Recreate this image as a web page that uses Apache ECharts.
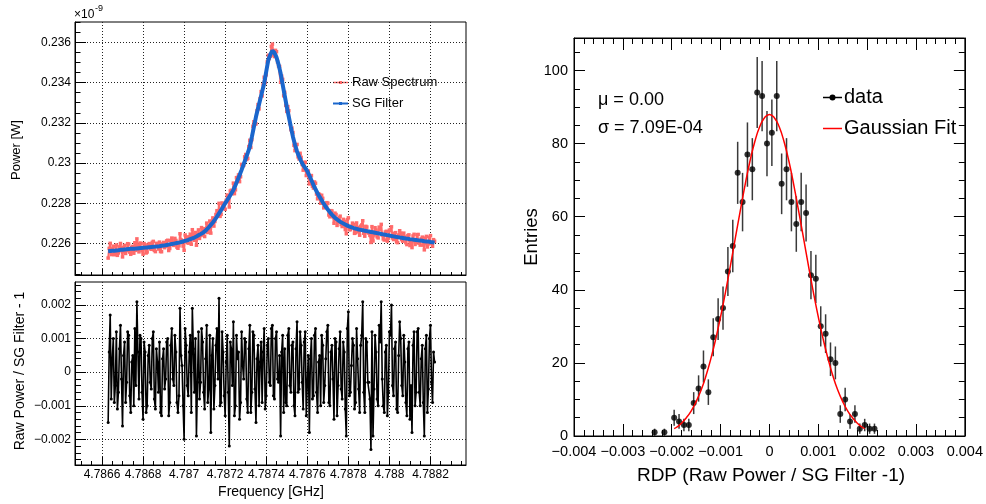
<!DOCTYPE html>
<html><head><meta charset="utf-8">
<script src="https://cdn.jsdelivr.net/npm/echarts@6/dist/echarts.min.js"></script>
<style>html,body{margin:0;padding:0;background:#fff}#c{width:986px;height:504px}</style>
</head><body><div id="c"></div>
<script>
// ================= DATA =================
// Frequency sampling of the spectrum (GHz)
const freqStart = 4.78663;
const freqStep = 0.000005;
// SG-filtered power, units of 1e-9 W (one value per sample)
const sgFilter = [
 0.22562,0.225625,0.22563,0.225635,0.22564,0.225645,0.22565,0.225655,0.22566,0.225665,0.22567,0.22568,0.22569,0.225695,0.22570,0.225705,0.22571,0.225715,0.22572,0.225725,
 0.22573,0.225735,0.22574,0.225745,0.22575,0.22575,0.22575,0.225755,0.22576,0.225765,0.22577,0.225775,0.22578,0.225785,0.22579,0.225795,0.22580,0.225805,0.22581,0.225815,
 0.22582,0.225825,0.22583,0.225835,0.22584,0.225845,0.22585,0.225855,0.22586,0.225865,0.22587,0.22588,0.22589,0.225895,0.22590,0.22591,0.22592,0.22593,0.22594,0.22595,
 0.22596,0.22597,0.22598,0.22599,0.22600,0.22601,0.22602,0.22603,0.22604,0.22605,0.22606,0.226075,0.22609,0.226105,0.22612,0.226135,0.22615,0.226165,0.22618,0.22620,
 0.22622,0.22624,0.22626,0.22628,0.22630,0.226325,0.22635,0.22638,0.22641,0.22644,0.22647,0.22650,0.22653,0.226565,0.22660,0.22665,0.22670,0.226755,0.22681,0.22687,
 0.22693,0.22699,0.22705,0.22712,0.22719,0.227265,0.22734,0.22742,0.22750,0.22758,0.22766,0.227745,0.22783,0.227915,0.22800,0.22808,0.22816,0.22824,0.22832,0.228405,
 0.22849,0.228575,0.22866,0.22878,0.22890,0.229025,0.22915,0.229275,0.22940,0.22953,0.22966,0.22980,0.22994,0.23008,0.23022,0.230365,0.23051,0.23066,0.23081,0.231055,
 0.23130,0.23155,0.23180,0.23205,0.23230,0.23251,0.23272,0.232925,0.23313,0.23334,0.23355,0.233755,0.23396,0.234255,0.23455,0.234835,0.23512,0.23526,0.23540,0.23549,
 0.23558,0.23553,0.23548,0.235365,0.23525,0.235075,0.23490,0.23468,0.23446,0.23418,0.23390,0.233625,0.23335,0.233075,0.23280,0.23255,0.23230,0.23205,0.23180,0.231555,
 0.23131,0.231115,0.23092,0.23075,0.23058,0.23045,0.23032,0.23021,0.23010,0.23000,0.22990,0.22983,0.22976,0.22968,0.22960,0.22949,0.22938,0.229265,0.22915,0.229035,
 0.22892,0.22881,0.22870,0.22860,0.22850,0.22841,0.22832,0.228235,0.22815,0.228065,0.22798,0.227905,0.22783,0.22776,0.22769,0.227625,0.22756,0.22750,0.22744,0.227385,
 0.22733,0.227285,0.22724,0.22720,0.22716,0.227125,0.22709,0.22706,0.22703,0.22700,0.22697,0.226945,0.22692,0.226895,0.22687,0.22685,0.22683,0.22681,0.22679,0.226775,
 0.22676,0.226745,0.22673,0.226715,0.22670,0.22669,0.22668,0.22667,0.22666,0.22665,0.22664,0.22663,0.22662,0.22661,0.22660,0.22659,0.22658,0.22657,0.22656,0.22655,
 0.22654,0.22653,0.22652,0.22651,0.22650,0.22649,0.22648,0.22647,0.22646,0.22645,0.22644,0.22643,0.22642,0.22641,0.22640,0.22639,0.22638,0.22637,0.22636,0.22635,
 0.22634,0.22633,0.22632,0.22631,0.22630,0.226295,0.22629,0.22628,0.22627,0.22626,0.22625,0.226245,0.22624,0.22623,0.22622,0.226215,0.22621,0.22620,0.22619,0.226185,
 0.22618,0.22617,0.22616,0.226155,0.22615,0.226145,0.22614,0.22613,0.22612,0.226115,0.22611,0.226105,0.22610,0.22609,0.22608,0.226075,0.22607,0.22606,0.22605
];
// Raw Power / SG Filter - 1, in units of 1e-4 (one value per sample)
const residualE4 = [
 -15,6,17,-8,4,10,-9,-4,12,-11,-6,7,14,-2,-16,5,9,-9,-3,12,
 11,-7,-12,3,5,-10,13,-4,21,6,-8,11,10,-6,-14,9,6,-12,-10,5,
 8,-3,-5,10,12,-8,-11,7,3,-6,9,-12,-13,4,7,-5,-2,9,10,-13,
 -9,8,13,-2,-4,11,6,-9,-12,-7,19,5,2,-10,-20,13,8,-4,-7,6,
 11,-12,19,7,-6,10,-19,-3,12,-8,-3,13,9,-6,-11,4,14,-9,-5,11,
 -18,5,10,-11,-4,8,13,-2,22,-10,-9,12,6,-7,-13,3,11,-6,-22,9,
 7,-4,15,-13,-10,11,4,6,-14,-9,12,2,-2,10,9,-8,-12,7,14,-12,
 -6,12,11,-5,-15,4,8,-10,3,9,-9,6,13,-11,-7,8,10,-3,-4,13,
 14,-7,-8,10,12,-2,-3,5,-19,6,11,-12,7,-9,-10,11,13,-4,-6,8,
 9,-10,-13,7,15,-6,-5,12,8,-3,-11,9,12,-13,-3,5,-18,4,10,-8,
 -7,11,13,-6,-12,3,5,-10,11,8,-9,-4,4,12,14,-9,-10,6,8,-2,
 -14,10,9,-13,-4,7,12,-5,-8,9,6,-11,-19,13,18,-7,-6,2,10,8,
 -11,-9,13,4,-5,-12,8,11,21,-6,-12,10,9,-3,-3,-8,-23,12,-19,-5,
 11,6,-8,-10,14,9,21,-2,-10,-12,6,8,-13,-6,12,11,20,-4,-7,7,
 9,-11,-12,5,15,10,-4,-7,11,3,-9,-13,7,9,-14,-4,-18,8,12,-10,
 -6,12,13,-6,-10,4,8,-9,-19,7,11,-12,-5,10,14,-3,-9,6,3
];
// RDP histogram (non-empty bins)
const histX = [-0.00235,-0.00215,-0.00195,-0.00185,-0.00175,-0.00165,-0.00155,-0.00145,-0.00135,-0.00125,-0.00115,-0.00105,-0.00095,-0.00085,-0.00075,-0.00065,-0.00055,-0.00045,-0.00035,-0.00025,-0.00015,-0.00005,
 0.00005,0.00015,0.00025,0.00035,0.00045,0.00055,0.00065,0.00075,0.00085,0.00095,0.00105,0.00115,0.00125,0.00135,0.00145,0.00155,0.00165,0.00175,0.00185,0.00195,0.00205,0.00215];
const histCounts = [1,1,5,4,3,3,9,13,19,12,27,32,35,45,52,72,64,77,73,94,93,80,
 83,93,69,73,64,58,64,61,44,43,30,28,21,20,6,10,4,6,2,3,2,2];
const histErr = [1,1,2.2,2,1.7,1.7,3,3.6,4.4,3.5,5.2,5.7,5.9,6.7,7.2,8.5,8,8.8,8.5,9.7,9.6,8.9,
 9.1,9.6,8.3,8.5,8,7.6,8,7.8,6.6,6.6,5.5,5.3,4.6,4.5,2.4,3.2,2,2.4,1.4,1.7,1.4,1.4];
// Gaussian fit curve
const fitX = [-0.00195,-0.0019,-0.0018,-0.0017,-0.0016,-0.0015,-0.0014,-0.0013,-0.0012,-0.0011,-0.001,-0.0009,-0.0008,-0.0007,-0.0006,-0.0005,-0.0004,-0.0003,-0.0002,-0.0001,0,
 0.0001,0.0002,0.0003,0.0004,0.0005,0.0006,0.0007,0.0008,0.0009,0.001,0.0011,0.0012,0.0013,0.0014,0.0015,0.0016,0.0017,0.0018,0.0019,0.00195];
const fitY = [2.0,2.4,3.5,5.0,6.9,9.4,12.5,16.4,21.1,26.5,32.6,39.3,46.5,54.0,61.4,68.6,75.1,80.5,84.6,87.1,88.0,
 87.1,84.6,80.5,75.1,68.6,61.4,54.0,46.5,39.3,32.6,26.5,21.1,16.4,12.5,9.4,6.9,5.0,3.5,2.4,2.0];
// Tick values and labels
const freqTicks = [4.7866,4.7868,4.787,4.7872,4.7874,4.7876,4.7878,4.788,4.7882];
const freqLabels = ['4.7866','4.7868','4.787','4.7872','4.7874','4.7876','4.7878','4.788','4.7882'];
const powerTicks = [0.226,0.228,0.23,0.232,0.234,0.236];
const powerLabels = ['0.226','0.228','0.23','0.232','0.234','0.236'];
const residTicks = [-0.002,-0.001,0,0.001,0.002];
const residLabels = ['\u22120.002','\u22120.001','0','0.001','0.002'];
const rdpTicks = [-0.004,-0.003,-0.002,-0.001,0,0.001,0.002,0.003,0.004];
const rdpLabels = ['\u22120.004','\u22120.003','\u22120.002','\u22120.001','0','0.001','0.002','0.003','0.004'];
const entryTicks = [0,20,40,60,80,100];
const entryLabels = ['0','20','40','60','80','100'];

// ================= BUILD =================
const FONT = "'Liberation Sans', Arial, Helvetica, sans-serif";
const freq = sgFilter.map((_, i) => freqStart + i * freqStep);
const sgData = sgFilter.map((v, i) => [freq[i], v]);
const rawData = sgFilter.map((v, i) => [freq[i], v * (1 + residualE4[i] * 1e-4)]);
const resData = residualE4.map((r, i) => [freq[i], r * 1e-4]);

function range(a, b, step) { const out = []; const n = Math.round((b - a) / step); for (let k = 0; k <= n; k++) out.push(a + k * step); return out; }

const R = {
  fx: [4.7864685, 4.788373],
  py: [0.22444, 0.237009],
  ry: [-0.002764, 0.002685],
  hx: [-0.004, 0.004],
  hy: [0, 108.9]
};
const minorFreq = range(4.7865, 4.78835, 0.00005);
const minorPow = range(0.2245, 0.237, 0.0005);
const minorRes = range(-0.0026, 0.0026, 0.0002);
const minorRdp = range(-0.004, 0.004, 0.0002);
const minorEnt = range(0, 105, 5);

const gridLine = {show: true, lineStyle: {color: '#222', width: 1, type: [1, 2]}};

function major(o) {
  return {
    type: 'value', gridIndex: o.grid, position: o.pos, min: o.range[0], max: o.range[1],
    axisLine: {show: true, onZero: false, lineStyle: {color: '#000', width: 1}},
    axisTick: {show: true, inside: true, length: o.tick, customValues: o.ticks, lineStyle: {color: '#000', width: 1}},
    axisLabel: {show: !!o.labels, customValues: o.ticks, margin: o.margin || 4, color: '#000',
      fontFamily: FONT, fontSize: o.fs || 12,
      formatter: v => { const i = o.ticks.findIndex(t => Math.abs(t - v) < 1e-9); return (i >= 0 && o.labels) ? o.labels[i] : ''; }},
    splitLine: o.split ? gridLine : {show: false},
    minorTick: {show: false}, minorSplitLine: {show: false}
  };
}
function minor(o) {
  return {
    type: 'value', gridIndex: o.grid, position: o.pos, min: o.range[0], max: o.range[1],
    axisLine: {show: false, onZero: false},
    axisTick: {show: true, inside: true, length: o.tick, customValues: o.ticks, lineStyle: {color: '#000', width: 1}},
    axisLabel: {show: false}, splitLine: {show: false}
  };
}

const frame = {show: true, borderColor: '#000', borderWidth: 1, backgroundColor: 'rgba(0,0,0,0)'};

const option = {
  animation: false,
  backgroundColor: '#fff',
  grid: [
    Object.assign({left: 75, top: 22, width: 391, height: 253}, frame),
    Object.assign({left: 75, top: 282, width: 391, height: 183}, frame),
    Object.assign({left: 574, top: 38, width: 393, height: 398}, frame)
  ],
  xAxis: [
    major({grid: 0, pos: 'bottom', range: R.fx, ticks: freqTicks, tick: 6, split: true}),
    minor({grid: 0, pos: 'bottom', range: R.fx, ticks: minorFreq, tick: 3}),
    major({grid: 1, pos: 'bottom', range: R.fx, ticks: freqTicks, labels: freqLabels, tick: 8, split: true, fs: 12, margin: 4}),
    minor({grid: 1, pos: 'bottom', range: R.fx, ticks: minorFreq, tick: 4}),
    major({grid: 2, pos: 'bottom', range: R.hx, ticks: rdpTicks, labels: rdpLabels, tick: 12, fs: 14.5, margin: 8}),
    minor({grid: 2, pos: 'bottom', range: R.hx, ticks: minorRdp, tick: 6}),
    major({grid: 2, pos: 'top', range: R.hx, ticks: rdpTicks, tick: 12}),
    minor({grid: 2, pos: 'top', range: R.hx, ticks: minorRdp, tick: 6})
  ],
  yAxis: [
    major({grid: 0, pos: 'left', range: R.py, ticks: powerTicks, labels: powerLabels, tick: 11, split: true, fs: 12, margin: 4}),
    minor({grid: 0, pos: 'left', range: R.py, ticks: minorPow, tick: 5.5}),
    major({grid: 1, pos: 'left', range: R.ry, ticks: residTicks, labels: residLabels, tick: 11, split: true, fs: 12, margin: 4}),
    minor({grid: 1, pos: 'left', range: R.ry, ticks: minorRes, tick: 6}),
    major({grid: 2, pos: 'left', range: R.hy, ticks: entryTicks, labels: entryLabels, tick: 11, fs: 14.5, margin: 6}),
    minor({grid: 2, pos: 'left', range: R.hy, ticks: minorEnt, tick: 6}),
    major({grid: 2, pos: 'right', range: R.hy, ticks: entryTicks, tick: 11}),
    minor({grid: 2, pos: 'right', range: R.hy, ticks: minorEnt, tick: 6})
  ],
  series: [
    {name: 'Raw Spectrum', type: 'line', xAxisIndex: 0, yAxisIndex: 0, data: rawData,
     symbol: 'rect', symbolSize: 3.5, showSymbol: true, lineStyle: {color: '#ff6a6a', width: 2},
     itemStyle: {color: '#ff6a6a'}, z: 2},
    {name: 'SG Filter', type: 'line', xAxisIndex: 0, yAxisIndex: 0, data: sgData,
     symbol: 'none', lineStyle: {color: '#1a66cc', width: 4}, itemStyle: {color: '#1a66cc'}, z: 3},
    {name: 'Residual', type: 'line', xAxisIndex: 2, yAxisIndex: 2, data: resData,
     symbol: 'circle', symbolSize: 3, lineStyle: {color: '#000', width: 1.6}, itemStyle: {color: '#000'}, z: 2},
    {name: 'data errors', type: 'custom', xAxisIndex: 4, yAxisIndex: 4,
     data: histX.map((x, i) => [x, histCounts[i], histErr[i]]),
     encode: {x: 0, y: 1}, silent: true, z: 2,
     renderItem: (params, api) => {
       const x = api.value(0), y = api.value(1), e = api.value(2);
       const p1 = api.coord([x, Math.max(0, y - e)]), p2 = api.coord([x, y + e]);
       return {type: 'line', shape: {x1: p1[0], y1: p1[1], x2: p2[0], y2: p2[1]}, style: {stroke: '#3a3a3a', lineWidth: 1.5}};
     }},
    {name: 'data', type: 'scatter', xAxisIndex: 4, yAxisIndex: 4,
     data: histX.map((x, i) => [x, histCounts[i]]), symbolSize: 6, itemStyle: {color: '#000'}, z: 3},
    {name: 'Gaussian Fit', type: 'line', xAxisIndex: 4, yAxisIndex: 4,
     data: fitX.map((x, i) => [x, fitY[i]]), smooth: true, symbol: 'none',
     lineStyle: {color: '#ff0000', width: 1.5}, itemStyle: {color: '#ff0000'}, z: 4}
  ],
  graphic: [
    {type: 'text', x: 74, y: 15, style: {text: '\u00d710', font: '12px ' + FONT, fill: '#000', textVerticalAlign: 'middle'}},
    {type: 'text', x: 95, y: 9, style: {text: '-9', font: '9px ' + FONT, fill: '#000', textVerticalAlign: 'middle'}},
    {type: 'text', x: 16, y: 150, rotation: Math.PI / 2, style: {text: 'Power [W]', font: '13px ' + FONT, fill: '#000', textAlign: 'center', textVerticalAlign: 'middle'}},
    {type: 'text', x: 20, y: 371, rotation: Math.PI / 2, style: {text: 'Raw Power / SG Filter - 1', font: '14px ' + FONT, fill: '#000', textAlign: 'center', textVerticalAlign: 'middle'}},
    {type: 'text', x: 271, y: 492, style: {text: 'Frequency [GHz]', font: '14px ' + FONT, fill: '#000', textAlign: 'center', textVerticalAlign: 'middle'}},
    {type: 'text', x: 532, y: 237, rotation: Math.PI / 2, style: {text: 'Entries', font: '18.5px ' + FONT, fill: '#000', textAlign: 'center', textVerticalAlign: 'middle'}},
    {type: 'text', x: 771, y: 476, style: {text: 'RDP (Raw Power / SG Filter -1)', font: '19px ' + FONT, fill: '#000', textAlign: 'center', textVerticalAlign: 'middle'}},
    {type: 'text', x: 598, y: 100, style: {text: '\u03bc = 0.00', font: '18px ' + FONT, fill: '#000', textVerticalAlign: 'middle'}},
    {type: 'text', x: 598, y: 128, style: {text: '\u03c3 = 7.09E-04', font: '18px ' + FONT, fill: '#000', textVerticalAlign: 'middle'}},
    {type: 'line', shape: {x1: 333, y1: 82.5, x2: 348, y2: 82.5}, style: {stroke: '#ff6a6a', lineWidth: 1.5}},
    {type: 'rect', shape: {x: 339, y: 81, width: 3, height: 3}, style: {fill: '#ff6a6a'}},
    {type: 'text', x: 352, y: 82.5, style: {text: 'Raw Spectrum', font: '13px ' + FONT, fill: '#000', textVerticalAlign: 'middle'}},
    {type: 'line', shape: {x1: 333, y1: 103.5, x2: 348, y2: 103.5}, style: {stroke: '#1a66cc', lineWidth: 2}},
    {type: 'rect', shape: {x: 339, y: 102, width: 3, height: 3}, style: {fill: '#1a66cc'}},
    {type: 'text', x: 352, y: 103.5, style: {text: 'SG Filter', font: '13px ' + FONT, fill: '#000', textVerticalAlign: 'middle'}},
    {type: 'line', shape: {x1: 823, y1: 97.5, x2: 842, y2: 97.5}, style: {stroke: '#000', lineWidth: 1.5}},
    {type: 'circle', shape: {cx: 832.5, cy: 97.5, r: 3}, style: {fill: '#000'}},
    {type: 'text', x: 844, y: 97.5, style: {text: 'data', font: '20px ' + FONT, fill: '#000', textVerticalAlign: 'middle'}},
    {type: 'line', shape: {x1: 823, y1: 128.5, x2: 842, y2: 128.5}, style: {stroke: '#ff0000', lineWidth: 1.5}},
    {type: 'text', x: 844, y: 128.5, style: {text: 'Gaussian Fit', font: '20px ' + FONT, fill: '#000', textVerticalAlign: 'middle'}}
  ]
};

const chart = echarts.init(document.getElementById('c'), null, {renderer: 'canvas'});
chart.setOption(option);
</script>
</body></html>
